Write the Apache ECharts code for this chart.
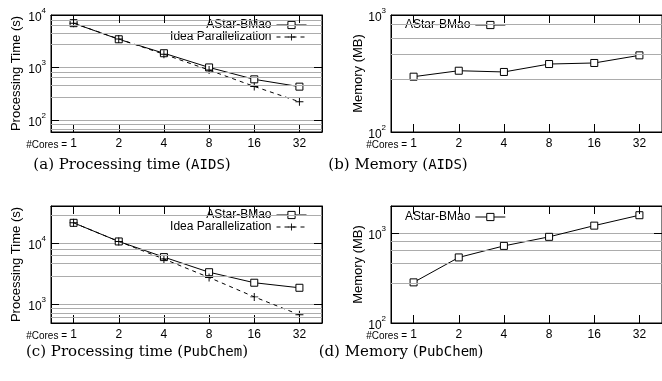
<!DOCTYPE html>
<html>
<head>
<meta charset="utf-8">
<script src="https://cdn.jsdelivr.net/npm/echarts@6/dist/echarts.min.js"></script>
<style>
html,body{margin:0;padding:0;background:#fff;}
#main{width:662px;height:381px;}
</style>
</head>
<body>
<div id="main"></div>
<script>
// values
var cores = ['1', '2', '4', '8', '16', '32'];
var aidsTime = [7000, 3460, 1880, 1010, 600, 436];
var aidsIdeal = [7000, 3500, 1800, 900, 440, 225];
var aidsMem = [297, 334, 326, 381, 389, 452];
var pubTime = [21300, 10600, 5900, 3350, 2260, 1870];
var pubIdeal = [21300, 10600, 5500, 2750, 1330, 680];
var pubMem = [283, 536, 720, 908, 1210, 1580];
// grey horizontal lines between the decades
var aidsTimeLines = [67, 84, 270, 460, 650, 820, 2800, 4500, 6400, 8100];
var aidsMemLines = [280, 460, 630, 840];
var pubTimeLines = [620, 710, 860, 2870, 4600, 6400, 7950, 28400];
var pubMemLines = [280, 460, 640, 820];
var captions = ['(a) Processing time ({m|AIDS})', '(b) Memory ({m|AIDS})',
                '(c) Processing time ({m|PubChem})', '(d) Memory ({m|PubChem})'];

var FONT = '"Liberation Sans", Arial, sans-serif';
var GREY = '#acacac';
var PLUS = 'path://M4.4,0H5.6V4.4H10V5.6H5.6V10H4.4V5.6H0V4.4H4.4Z';

var panels = [
    {left: 51, top: 15, min: 60, max: 10000, name: 'Processing Time (s)', gap: 28,
     lines: aidsTimeLines, main: aidsTime, ideal: aidsIdeal,
     legend: {right: 347, top: 17, padding: [2, 8, 2, 40]}, cap: [132, 165]},
    {left: 391, top: 15, min: 100, max: 1000, name: 'Memory (MB)', gap: 26,
     lines: aidsMemLines, main: aidsMem,
     legend: {left: 393, top: 17, padding: [2, 6, 2, 12]}, cap: [398, 165]},
    {left: 51, top: 206, min: 500, max: 40000, name: 'Processing Time (s)', gap: 28,
     lines: pubTimeLines, main: pubTime, ideal: pubIdeal,
     legend: {right: 347, top: 207, padding: [2, 8, 2, 40]}, cap: [137, 352]},
    {left: 391, top: 206, min: 100, max: 2000, name: 'Memory (MB)', gap: 26,
     lines: pubMemLines, main: pubMem,
     legend: {left: 393, top: 209, padding: [2, 6, 2, 12]}, cap: [401, 352]}
];

// only label the powers of ten, as 10 with a raised exponent
function powLabel(v){
    var e = Math.round(Math.log10(v));
    if (Math.abs(Math.log10(v) - e) > 1e-6) return '';
    return '{b|10}{s|' + e + '}';
}
var RICH = {
    b: {fontFamily: FONT, fontSize: 12, color: '#000', verticalAlign: 'bottom', padding: [5, 0, 0, 0]},
    s: {fontFamily: FONT, fontSize: 8, color: '#000', verticalAlign: 'top'}
};

var grids = [], xAxes = [], yAxes = [], series = [], legends = [], graphics = [];
panels.forEach(function(p, i){
    grids.push({left: p.left, top: p.top, width: 271, height: 117, show: true,
        borderColor: '#000', borderWidth: 1, outerBoundsMode: 'none'});
    // bottom axis with labels
    xAxes.push({type: 'category', gridIndex: i, data: cores, boundaryGap: true,
        name: '#Cores =', nameLocation: 'start', nameGap: -16, nameMoveOverlap: false,
        nameTextStyle: {fontFamily: FONT, fontSize: 10, color: '#000', verticalAlign: 'top', padding: [8, 0, 0, 0]},
        axisLine: {show: true, lineStyle: {color: '#000'}},
        axisTick: {show: true, inside: true, alignWithLabel: true, length: 8, lineStyle: {color: '#000'}},
        axisLabel: {fontFamily: FONT, fontSize: 12, color: '#000', margin: 6},
        splitLine: {show: false}});
    // mirrored ticks on top
    xAxes.push({type: 'category', gridIndex: i, data: cores, boundaryGap: true, position: 'top', z: 6,
        axisLine: {show: true, lineStyle: {color: '#000'}},
        axisTick: {show: true, inside: true, alignWithLabel: true, length: 8, lineStyle: {color: '#000'}},
        axisLabel: {show: false}, splitLine: {show: false}});
    yAxes.push({type: 'log', logBase: 10, gridIndex: i, min: p.min, max: p.max,
        name: p.name, nameLocation: 'middle', nameGap: p.gap, nameMoveOverlap: false,
        nameTextStyle: {fontFamily: FONT, fontSize: 13, color: '#000'},
        axisLine: {show: true, lineStyle: {color: '#000'}},
        axisTick: {show: true, inside: true, length: 8, lineStyle: {color: '#000'}},
        axisLabel: {formatter: powLabel, margin: 5, rich: RICH},
        splitLine: {show: true, lineStyle: {color: GREY, width: 1}}});
    yAxes.push({type: 'log', logBase: 10, gridIndex: i, min: p.min, max: p.max, position: 'right',
        axisLine: {show: true, lineStyle: {color: '#000'}},
        axisTick: {show: true, inside: true, length: 8, lineStyle: {color: '#000'}},
        axisLabel: {show: false}, splitLine: {show: false}});

    // grey lines via markLine on an empty series
    series.push({type: 'line', name: 'lines' + i, data: [], xAxisIndex: i * 2, yAxisIndex: i * 2, z: 1,
        markLine: {silent: true, symbol: ['none', 'none'], label: {show: false}, animation: false,
            lineStyle: {color: GREY, type: 'solid', width: 1},
            data: p.lines.map(function(v){ return {yAxis: v}; })}});
    series.push({type: 'line', name: 'AStar-BMao', data: p.main, xAxisIndex: i * 2, yAxisIndex: i * 2,
        symbol: 'rect', symbolSize: 7, z: 3,
        lineStyle: {color: '#000', width: 1},
        itemStyle: {color: '#fff', borderColor: '#000', borderWidth: 1}});
    var names = ['AStar-BMao'];
    if (p.ideal) {
        series.push({type: 'line', name: 'Idea Parallelization', data: p.ideal, xAxisIndex: i * 2, yAxisIndex: i * 2,
            symbol: PLUS, symbolSize: 8, z: 4,
            lineStyle: {color: '#000', width: 1, type: [4, 4]},
            itemStyle: {color: '#000'}});
        names.push('Idea Parallelization');
    }
    var lg = {data: names, orient: 'vertical', align: 'right', selectedMode: false,
        itemWidth: 30, itemHeight: 9, itemGap: 0, backgroundColor: '#fff', borderWidth: 0,
        lineStyle: {width: 1}, itemStyle: {borderWidth: 1},
        textStyle: {fontFamily: FONT, fontSize: 12, color: '#000'}};
    for (var k in p.legend) lg[k] = p.legend[k];
    legends.push(lg);

    graphics.push({type: 'text', x: p.cap[0], y: p.cap[1],
        style: {text: captions[i], fontFamily: '"DejaVu Serif", serif', fontSize: 15, fill: '#000',
            align: 'center', verticalAlign: 'middle',
            rich: {m: {fontFamily: '"DejaVu Sans Mono", monospace', fontSize: 14}}}});
});

var chart = echarts.init(document.getElementById('main'), null, {renderer: 'canvas'});
chart.setOption({
    animation: false,
    backgroundColor: '#fff',
    grid: grids,
    xAxis: xAxes,
    yAxis: yAxes,
    legend: legends,
    series: series,
    graphic: graphics
});
</script>
</body>
</html>
